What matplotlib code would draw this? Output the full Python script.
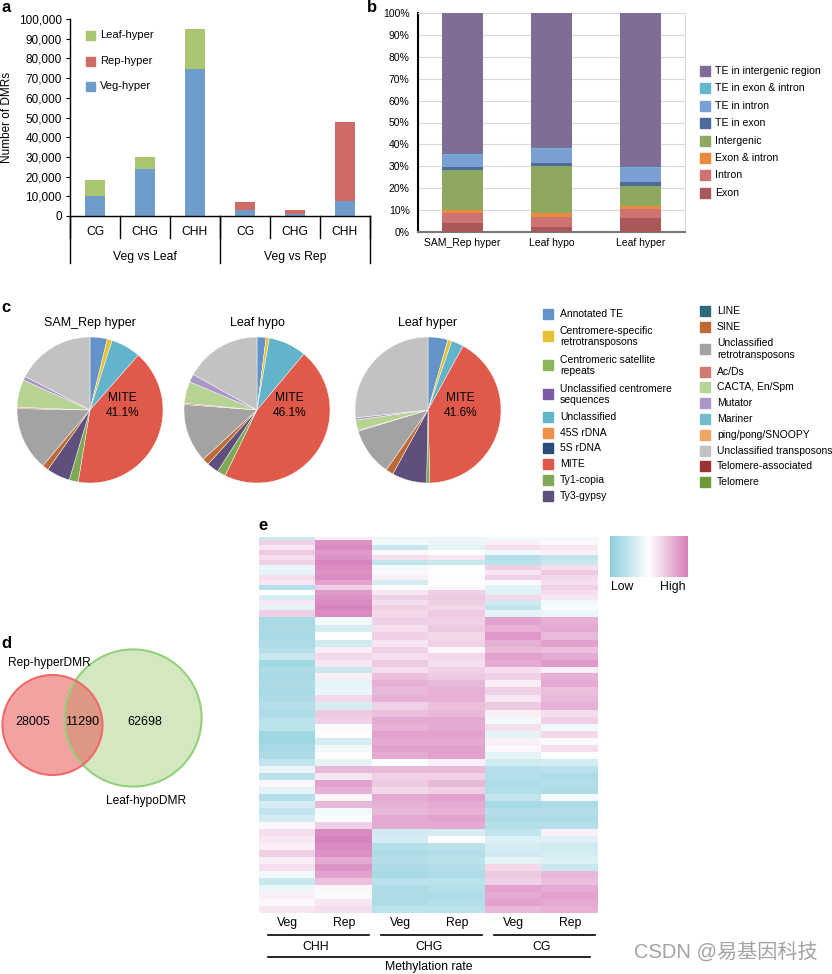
import numpy as np
import matplotlib
matplotlib.use('Agg')
import matplotlib.pyplot as plt
import matplotlib.ticker as mticker
from matplotlib.patches import Rectangle, Circle
from matplotlib.colors import LinearSegmentedColormap, Normalize

plt.rcParams['font.family'] = ['Liberation Sans', 'DejaVu Sans']

# ======================= DATA =======================
# panel a
a_contexts = ['CG', 'CHG', 'CHH', 'CG', 'CHG', 'CHH']
a_groups = ['Veg vs Leaf', 'Veg vs Rep']
a_veg_hyper = [10000, 24000, 74500, 3000, 1000, 7500]
a_leaf_hyper = [8200, 5800, 20500, 0, 0, 0]
a_rep_hyper = [0, 0, 0, 4000, 2000, 40000]
a_series = ['Leaf-hyper', 'Rep-hyper', 'Veg-hyper']

# panel b (percent, bottom to top)
b_samples = ['SAM_Rep hyper', 'Leaf hypo', 'Leaf hyper']
b_features = ['Exon', 'Intron', 'Exon & intron', 'Intergenic', 'TE in exon',
              'TE in intron', 'TE in exon & intron', 'TE in intergenic region']
b_exon = [4.0, 2.5, 6.5]
b_intron = [4.5, 4.5, 4.0]
b_exon_intron = [1.5, 1.5, 1.5]
b_intergenic = [18.5, 21.5, 9.0]
b_te_exon = [1.0, 1.5, 2.0]
b_te_intron = [5.5, 6.5, 6.0]
b_te_exon_intron = [0.5, 0.5, 0.5]
b_te_intergenic = [64.5, 61.5, 70.5]

# panel c
c_titles = ['SAM_Rep hyper', 'Leaf hypo', 'Leaf hyper']
c_legend_col1 = ['Annotated TE', 'Centromere-specific\nretrotransposons',
                 'Centromeric satellite\nrepeats', 'Unclassified centromere\nsequences',
                 'Unclassified', '45S rDNA', '5S rDNA', 'MITE', 'Ty1-copia', 'Ty3-gypsy']
c_legend_col2 = ['LINE', 'SINE', 'Unclassified\nretrotransposons', 'Ac/Ds', 'CACTA, En/Spm',
                 'Mutator', 'Mariner', 'ping/pong/SNOOPY', 'Unclassified transposons',
                 'Telomere-associated', 'Telomere']
c_slice_classes = ['Annotated TE', 'Centromere-specific retrotransposons', 'Unclassified',
                   'MITE', 'Ty1-copia', 'Ty3-gypsy', 'SINE', 'Unclassified retrotransposons',
                   'Ac/Ds', 'CACTA, En/Spm', 'Mutator', 'Unclassified transposons']
c_sam_rep_hyper = [3.8, 1.1, 6.6, 41.1, 2.0, 5.2, 1.4, 14.1, 0.3, 6.1, 0.9, 17.4]
c_leaf_hypo = [2.0, 0.7, 8.4, 46.1, 1.9, 2.6, 1.5, 13.0, 0.3, 4.8, 1.8, 16.9]
c_leaf_hyper = [4.4, 0.9, 2.7, 41.6, 0.7, 7.7, 1.7, 10.6, 0.2, 2.3, 0.5, 26.7]

# panel d
d_sets = ['Rep-hyperDMR', 'Leaf-hypoDMR']
d_rep_only = 28005
d_both = 11290
d_leaf_only = 62698

# panel e  (block heights in rows, values: <0 low, >0 high)
e_contexts = ['CHH', 'CHG', 'CG']
e_tissues = ['Veg', 'Rep']
e_block_rows = [3, 5, 5, 5, 5, 5, 5, 5, 5, 5, 5, 5, 5, 5, 5, 7,
                8, 7, 8, 7, 6, 7, 7, 6, 7, 7, 8, 7, 8, 7, 7,
                7, 7, 7, 7, 7, 7, 7, 7, 7, 7, 7, 7, 7, 7, 7, 7, 7, 7, 7, 7, 7, 7, 7, 7, 7, 7, 7]
e_block_values = [
    [-0.40, 0.10, -0.15, -0.15, -0.10, -0.10],
    [0.30, 0.70, -0.10, -0.15, 0.10, 0.05],
    [0.15, 0.75, -0.40, -0.20, 0.20, 0.15],
    [0.35, 0.65, 0.05, 0.00, -0.10, 0.10],
    [0.20, 0.70, 0.20, 0.15, -0.55, -0.45],
    [0.30, 0.80, -0.45, -0.40, -0.50, -0.40],
    [-0.15, 0.75, -0.10, 0.00, 0.30, 0.20],
    [-0.20, 0.70, 0.05, 0.00, 0.15, 0.35],
    [0.20, 0.75, 0.10, 0.02, 0.30, 0.25],
    [0.15, 0.60, -0.30, 0.00, -0.05, 0.20],
    [-0.55, 0.30, 0.00, 0.05, -0.20, 0.30],
    [0.00, 0.65, 0.15, 0.30, -0.25, 0.20],
    [-0.30, 0.70, 0.30, 0.35, 0.25, 0.15],
    [0.15, 0.75, 0.20, 0.30, -0.35, -0.10],
    [-0.20, 0.80, 0.30, 0.25, -0.45, -0.05],
    [0.30, 0.75, 0.25, 0.35, -0.20, -0.15],
    [-0.65, -0.10, 0.30, 0.30, 0.60, 0.50],
    [-0.60, -0.30, 0.20, 0.35, 0.50, 0.55],
    [-0.65, 0.00, 0.30, 0.25, 0.65, 0.45],
    [-0.60, -0.35, 0.15, 0.30, 0.50, 0.60],
    [-0.55, 0.10, 0.30, 0.05, 0.45, 0.40],
    [-0.40, 0.25, 0.20, 0.25, 0.60, 0.55],
    [-0.70, 0.15, 0.35, 0.20, 0.55, 0.65],
    [-0.60, -0.40, 0.20, 0.30, 0.20, 0.10],
    [-0.65, 0.10, 0.40, 0.35, 0.30, 0.50],
    [-0.60, -0.20, 0.50, 0.45, 0.10, 0.55],
    [-0.65, -0.15, 0.45, 0.50, 0.30, 0.40],
    [-0.60, 0.25, 0.50, 0.50, 0.15, 0.45],
    [-0.55, -0.30, 0.30, 0.40, 0.35, 0.50],
    [-0.60, 0.35, 0.40, 0.45, 0.10, 0.20],
    [-0.50, 0.30, 0.55, 0.55, -0.10, 0.30],
    [-0.50, -0.05, 0.50, 0.55, 0.20, -0.10],
    [-0.70, 0.00, 0.60, 0.60, -0.20, 0.25],
    [-0.70, -0.30, 0.55, 0.55, 0.10, -0.05],
    [-0.65, -0.10, 0.60, 0.60, 0.05, 0.20],
    [-0.60, 0.00, 0.55, 0.60, -0.20, 0.00],
    [-0.45, -0.20, 0.00, 0.10, -0.35, -0.30],
    [-0.15, 0.45, 0.45, 0.45, -0.55, -0.50],
    [-0.50, 0.15, 0.30, 0.30, -0.55, -0.60],
    [0.05, 0.60, 0.35, 0.45, -0.60, -0.55],
    [-0.20, 0.50, 0.25, 0.30, -0.55, -0.60],
    [-0.55, 0.05, 0.55, 0.60, -0.45, -0.10],
    [-0.30, 0.45, 0.50, 0.55, -0.65, -0.60],
    [-0.45, -0.10, 0.45, 0.50, -0.55, -0.55],
    [-0.30, -0.05, 0.55, 0.60, -0.60, -0.60],
    [0.05, 0.30, 0.55, 0.55, -0.55, -0.55],
    [0.20, 0.75, -0.35, -0.30, -0.45, 0.10],
    [0.15, 0.80, -0.30, 0.00, -0.25, -0.25],
    [0.10, 0.75, -0.55, -0.50, -0.30, -0.35],
    [0.30, 0.70, -0.60, -0.55, -0.35, -0.30],
    [0.10, 0.55, -0.55, -0.50, -0.20, -0.25],
    [0.20, 0.70, -0.60, -0.55, 0.25, -0.40],
    [-0.10, 0.60, -0.65, -0.60, 0.35, 0.45],
    [-0.40, 0.40, -0.50, -0.50, 0.30, 0.40],
    [-0.15, 0.05, -0.60, -0.55, 0.60, 0.55],
    [0.10, -0.05, -0.60, -0.60, 0.55, 0.60],
    [0.05, 0.15, -0.60, -0.55, 0.60, 0.55],
    [0.15, 0.20, -0.50, -0.50, 0.45, 0.50],
]

# ======================= STYLE =======================
C_VEG, C_LEAF, C_REP = '#6f9dcb', '#a9c670', '#cf6b67'
B_COLORS = ['#a8575b', '#cf7272', '#e98b3e', '#8fa85f', '#4d6b99', '#7aa0d3', '#63b8cd', '#7f6c97']
TE_COLORS = {
    'Annotated TE': '#6393c9', 'Centromere-specific retrotransposons': '#e8c132',
    'Centromeric satellite repeats': '#8db65a', 'Unclassified centromere sequences': '#7b5ba2',
    'Unclassified': '#62b4cb', '45S rDNA': '#f08f4a', '5S rDNA': '#2c4d7a', 'MITE': '#e05a4b',
    'Ty1-copia': '#80a955', 'Ty3-gypsy': '#5f4f7d', 'LINE': '#2f6a7c', 'SINE': '#bf6a35',
    'Unclassified retrotransposons': '#a3a3a3', 'Ac/Ds': '#d37a72', 'CACTA, En/Spm': '#b6d394',
    'Mutator': '#ab97c8', 'Mariner': '#74bccd', 'ping/pong/SNOOPY': '#f2a666',
    'Unclassified transposons': '#c2c2c2', 'Telomere-associated': '#9a3434', 'Telomere': '#6e9a38',
}

W, H = 832, 974
fig = plt.figure(figsize=(W / 100, H / 100), dpi=100)


def box(x0, y0, x1, y1):
    return [x0 / W, 1 - y1 / H, (x1 - x0) / W, (y1 - y0) / H]


ov = fig.add_axes([0, 0, 1, 1], zorder=5)
ov.set_xlim(0, W)
ov.set_ylim(H, 0)
ov.axis('off')
ov.patch.set_visible(False)

for t, (x, y) in zip('abcde', [(1, 8), (367, 8), (1, 307), (1, 643), (258, 526)]):
    ov.text(x, y, t, fontsize=12, fontweight='bold', ha='left', va='center')

# ======================= PANEL A =======================
axa = fig.add_axes(box(70, 19, 370, 216))
xa = np.arange(len(a_contexts))
bw = 0.4
axa.bar(xa, a_veg_hyper, bw, color=C_VEG)
axa.bar(xa, a_leaf_hyper, bw, bottom=a_veg_hyper, color=C_LEAF)
axa.bar(xa, a_rep_hyper, bw, bottom=a_veg_hyper, color=C_REP)
axa.set_xlim(-0.5, len(a_contexts) - 0.5)
axa.set_ylim(0, 100000)
axa.set_yticks(np.arange(0, 100001, 10000))
axa.yaxis.set_major_formatter(mticker.FuncFormatter(lambda v, p: f'{int(v):,}'))
axa.tick_params(axis='y', length=3, width=0.8, pad=3, labelsize=8.5)
axa.set_xticks([])
for s in ['top', 'right']:
    axa.spines[s].set_visible(False)
axa.spines['left'].set_linewidth(1.0)
axa.spines['bottom'].set_linewidth(1.0)
ta = axa.get_xaxis_transform()
hpx = 197.0
for i, c in enumerate(a_contexts):
    axa.text(i, -16 / hpx, c, transform=ta, ha='center', va='center', fontsize=8.7, clip_on=False)
for bnd in np.arange(-0.5, len(a_contexts)):
    axa.plot([bnd, bnd], [0, -22 / hpx], transform=ta, color='k', lw=1.0, clip_on=False)
n_per = len(a_contexts) // len(a_groups)
for g, name in enumerate(a_groups):
    axa.text(g * n_per + (n_per - 1) / 2, -41 / hpx, name, transform=ta, ha='center', va='center',
             fontsize=8.7, clip_on=False)
for g in range(len(a_groups) + 1):
    bnd = g * n_per - 0.5
    axa.plot([bnd, bnd], [0, -47 / hpx], transform=ta, color='k', lw=1.0, clip_on=False)
ov.text(7, 117, 'Number of DMRs', rotation=90, ha='center', va='center', fontsize=8.5)
for name, col, y in zip(a_series, [C_LEAF, C_REP, C_VEG], [35, 61, 86]):
    ov.add_patch(Rectangle((86, y - 4.5), 9, 9, color=col))
    ov.text(100, y, name, ha='left', va='center', fontsize=8)

# ======================= PANEL B =======================
axb = fig.add_axes(box(418, 13, 685, 232))
xb = np.arange(len(b_samples))
b_stack = [b_exon, b_intron, b_exon_intron, b_intergenic, b_te_exon, b_te_intron,
           b_te_exon_intron, b_te_intergenic]
bottom = np.zeros(len(b_samples))
for vals, col in zip(b_stack, B_COLORS):
    axb.bar(xb, vals, 0.47, bottom=bottom, color=col, zorder=3)
    bottom += np.array(vals)
axb.set_xlim(-0.5, len(b_samples) - 0.5)
axb.set_ylim(0, 100)
axb.set_yticks(range(0, 101, 10))
axb.yaxis.set_major_formatter(mticker.FuncFormatter(lambda v, p: f'{int(v)}%'))
axb.yaxis.grid(True, color='#d9d9d9', lw=0.8, zorder=0)
axb.set_axisbelow(True)
axb.set_xticks(xb)
axb.set_xticklabels(b_samples, fontsize=7.5)
axb.tick_params(axis='x', length=0, pad=4)
axb.tick_params(axis='y', length=0, pad=6, labelsize=7.5)
axb.spines['left'].set_color('black')
axb.spines['left'].set_linewidth(1.5)
axb.spines['bottom'].set_color('#777777')
axb.spines['bottom'].set_linewidth(1.5)
for s in ['top', 'right']:
    axb.spines[s].set_color('#d9d9d9')
    axb.spines[s].set_linewidth(0.8)
for i, (name, col) in enumerate(zip(b_features[::-1], B_COLORS[::-1])):
    y = 71 + 17.4 * i
    ov.add_patch(Rectangle((700, y - 5), 10, 10, color=col))
    ov.text(715, y, name, ha='left', va='center', fontsize=7.6)

# ======================= PANEL C =======================
R = 73
cy = 410
for title, vals, cx in zip(c_titles, [c_sam_rep_hyper, c_leaf_hypo, c_leaf_hyper], [90, 257, 428]):
    axp = fig.add_axes(box(cx - R * 1.02, cy - R * 1.02, cx + R * 1.02, cy + R * 1.02))
    axp.pie(vals, colors=[TE_COLORS[c] for c in c_slice_classes], startangle=90, counterclock=False,
            radius=1.0, wedgeprops=dict(edgecolor='white', linewidth=0.3))
    axp.set_xlim(-1.02, 1.02)
    axp.set_ylim(-1.02, 1.02)
    axp.set_aspect('equal')
    axp.axis('off')
    axp.text(0, 1.19, title, ha='center', va='center', fontsize=9, clip_on=False)
    mi = c_slice_classes.index('MITE')
    axp.text(0.44, 0.06, f'MITE\n{vals[mi]:.1f}%', ha='center', va='center', fontsize=8.6,
             linespacing=1.35)


def legend_column(names, x, y0):
    y_prev, h_prev = None, None
    for name in names:
        nlines = name.count('\n') + 1
        h = 15.8 if nlines == 1 else 29.0
        y = y0 if y_prev is None else y_prev + (h_prev + h) / 2
        key = name.replace('\n', ' ')
        ov.add_patch(Rectangle((x, y - 5), 10, 10, color=TE_COLORS[key]))
        ov.text(x + 17, y, name, ha='left', va='center', fontsize=7.5, linespacing=1.2)
        y_prev, h_prev = y, h


legend_column(c_legend_col1, 543, 314)
legend_column(c_legend_col2, 700, 311)

# ======================= PANEL D =======================
r_scale = 50 / np.sqrt(d_rep_only + d_both)
r_rep = r_scale * np.sqrt(d_rep_only + d_both)
r_leaf = r_scale * np.sqrt(d_leaf_only + d_both)
ov.add_patch(Circle((133, 718), r_leaf, facecolor='#d3e8c1', edgecolor='none'))
ov.add_patch(Circle((52.5, 725), r_rep, facecolor=(0.91, 0.28, 0.28, 0.5), edgecolor='none'))
ov.add_patch(Circle((133, 718), r_leaf, facecolor='none', edgecolor='#95d07a', lw=1.5))
ov.add_patch(Circle((52.5, 725), r_rep, facecolor='none', edgecolor='#f06a6a', lw=1.5))
ov.text(49.5, 663, d_sets[0], ha='center', va='center', fontsize=8.6)
ov.text(146, 801, d_sets[1], ha='center', va='center', fontsize=8.6)
ov.text(32.5, 722, str(d_rep_only), ha='center', va='center', fontsize=9)
ov.text(82.5, 722, str(d_both), ha='center', va='center', fontsize=9)
ov.text(144.5, 722, str(d_leaf_only), ha='center', va='center', fontsize=9)

# ======================= PANEL E =======================
cmap = LinearSegmentedColormap.from_list('lowhigh', [(0, '#8ccfdd'), (0.5, '#ffffff'), (1, '#d77cb9')])
hm = np.repeat(np.array(e_block_values), e_block_rows, axis=0)
axe = fig.add_axes(box(259, 537, 598, 913))
axe.imshow(hm, aspect='auto', cmap=cmap, norm=Normalize(-0.85, 0.85), interpolation='nearest')
axe.set_xticks([])
axe.set_yticks([])
for s in axe.spines.values():
    s.set_visible(False)
te = axe.get_xaxis_transform()
hh = 376.0
ncol = len(e_contexts) * len(e_tissues)
for j in range(ncol):
    axe.text(j, -10 / hh, e_tissues[j % 2], transform=te, ha='center', va='center', fontsize=8.8,
             clip_on=False)
for g, ctx in enumerate(e_contexts):
    axe.plot([2 * g - 0.34, 2 * g + 1.45], [-22 / hh, -22 / hh], transform=te, color='k', lw=1.2,
             clip_on=False)
    axe.text(2 * g + 0.5, -34 / hh, ctx, transform=te, ha='center', va='center', fontsize=8.8,
             clip_on=False)
axe.plot([-0.34, ncol - 0.64], [-44 / hh, -44 / hh], transform=te, color='k', lw=1.2, clip_on=False)
axe.text((ncol - 1) / 2, -54 / hh, 'Methylation rate', transform=te, ha='center', va='center',
         fontsize=8.8, clip_on=False)

axc = fig.add_axes(box(610, 536, 688, 577))
axc.imshow(np.linspace(-1, 1, 256)[None, :], aspect='auto', cmap=cmap, norm=Normalize(-1, 1))
axc.axis('off')
ov.text(622, 587, 'Low', ha='center', va='center', fontsize=8.8)
ov.text(673, 587, 'High', ha='center', va='center', fontsize=8.8)

ov.text(726, 953, 'CSDN @易基因科技', ha='center', va='center', fontsize=14.5, color='#a3a3a3',
        family=['Liberation Sans', 'Noto Sans CJK SC', 'DejaVu Sans'])

fig.savefig('out.png', dpi=100)
